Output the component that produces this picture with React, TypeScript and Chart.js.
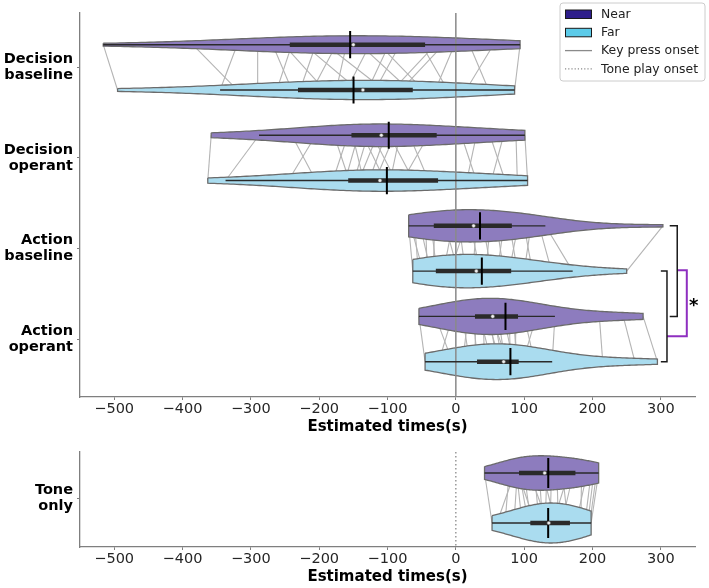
import React, { useEffect, useRef } from "react";
import { Chart, registerables } from "chart.js";

Chart.register(...registerables);

// Estimated times (s), one value per participant.
// Near[i] and Far[i] belong to the same participant and are joined by a grey line.
const decisionBaselineNear = [-516, -385, -320, -290, -268, -252, -240, -222, -205, -190, -175, -160, -140, -126, -112, -98, -82, -50, -30, -18, -2, 20, 55, 94];
const decisionBaselineFar = [-495, -320, -345, -290, -240, -192, -262, -143, -228, -105, -210, -175, -68, -160, -48, -129, -118, -12, -92, -80, -30, 48, 15, 86];

const decisionOperantNear = [-358, -288, -240, -205, -178, -158, -151, -143, -136, -129, -122, -115, -103, -97, -90, -82, -68, -40, 8, 30, 50, 70, 88, 101];
const decisionOperantFar = [-363, -337, -205, -245, -156, -180, -135, -162, -104, -149, -88, -142, -127, -62, -118, -96, -40, -78, 30, 16, 72, 52, 90, 105];

const actionBaselineNear = [-69, -66, -60, -52, -44, -36, -31, -15, -5, 5, 14, 22, 30, 40, 50, 60, 70, 79, 91, 100, 110, 122, 131, 303];
const actionBaselineFar = [-63, -48, -55, -37, -42, -28, -33, 3, -18, 14, -8, 35, 25, 52, 44, 70, 61, 90, 78, 112, 100, 140, 171, 250];

const actionOperantNear = [-54, -30, -5, 10, 18, 25, 29, 35, 40, 45, 49, 52, 56, 62, 70, 78, 84, 88, 100, 118, 145, 210, 245, 274];
const actionOperantFar = [-45, -5, -25, 20, 10, 32, 28, 52, 42, 65, 60, 76, 68, 72, 84, 80, 90, 87, 115, 98, 141, 215, 262, 295];

const toneOnlyNear = [42, 78, 86, 89, 90, 91, 93, 100, 108, 115, 122, 127, 133, 140, 148, 156, 165, 172, 184, 192, 198, 202, 206, 209];
const toneOnlyFar = [53, 72, 60, 97, 85, 116, 106, 110, 134, 122, 127, 146, 131, 138, 150, 164, 142, 155, 183, 176, 189, 193, 196, 198];

const topCategories = [["Decision", "baseline"], ["Decision", "operant"], ["Action", "baseline"], ["Action", "operant"]];
const bottomCategories = [["Tone", "only"]];
const xTickValues = [-500, -400, -300, -200, -100, 0, 100, 200, 300];
const hueNames = ["Near", "Far"];
const onsetNames = ["Key press onset", "Tone play onset"];
const xTitle = "Estimated times(s)";
const significanceMark = "*";

type Row = { near: number[]; far: number[] };

const topRows: Row[] = [
  { near: decisionBaselineNear, far: decisionBaselineFar },
  { near: decisionOperantNear, far: decisionOperantFar },
  { near: actionBaselineNear, far: actionBaselineFar },
  { near: actionOperantNear, far: actionOperantFar },
];
const bottomRows: Row[] = [{ near: toneOnlyNear, far: toneOnlyFar }];

// ---- styling ----
const FONT = "'DejaVu Sans', 'Liberation Sans', sans-serif";
const AXIS = "#7f7f7f";
const NEAR_FILL = "#8d7cbe";
const FAR_FILL = "#aadcef";
const NEAR_PATCH = "#2e1e8b";
const FAR_PATCH = "#5ccbe9";
const VIOLIN_EDGE = "#6b6b6b";
const PAIR_LINE = "#b4b4b4";
const BOX = "#2a2a2a";
const SIG = "#8e2fc0";
const DODGE = 0.25;
const HALF_WIDTH = 0.2;
const MEAN_HALF = 0.15;
const BW_ADJUST = 1.6;

// numpy-style linear quantile
function quantile(sorted: number[], p: number) {
  const pos = p * (sorted.length - 1);
  const lo = Math.floor(pos);
  const hi = Math.min(lo + 1, sorted.length - 1);
  return sorted[lo] + (pos - lo) * (sorted[hi] - sorted[lo]);
}

function boxStats(values: number[]) {
  const s = [...values].sort((a, b) => a - b);
  const q1 = quantile(s, 0.25);
  const median = quantile(s, 0.5);
  const q3 = quantile(s, 0.75);
  const fence = 1.5 * (q3 - q1);
  const lo = Math.min(...s.filter((v) => v >= q1 - fence));
  const hi = Math.max(...s.filter((v) => v <= q3 + fence));
  const mean = s.reduce((a, b) => a + b, 0) / s.length;
  return { q1, median, q3, lo, hi, mean };
}

// Gaussian KDE with Scott's bandwidth (adjusted), cut at the data range
function kde(values: number[]) {
  const n = values.length;
  const mean = values.reduce((a, b) => a + b, 0) / n;
  const sd = Math.sqrt(values.reduce((a, b) => a + (b - mean) ** 2, 0) / (n - 1));
  const bw = Math.pow(n, -0.2) * sd * BW_ADJUST;
  const lo = Math.min(...values);
  const hi = Math.max(...values);
  const xs: number[] = [];
  const ds: number[] = [];
  const grid = 100;
  for (let i = 0; i < grid; i++) {
    const x = lo + ((hi - lo) * i) / (grid - 1);
    let sum = 0;
    for (const v of values) {
      const z = (x - v) / bw;
      sum += Math.exp(-0.5 * z * z);
    }
    xs.push(x);
    ds.push(sum / (n * bw * Math.sqrt(2 * Math.PI)));
  }
  return { xs, ds };
}

function seg(points: { x: number; y: number }[], color: string, width: number, order: number, dash: number[] = []) {
  return {
    type: "line",
    data: points,
    borderColor: color,
    borderWidth: width,
    borderDash: dash,
    borderCapStyle: "butt",
    pointRadius: 0,
    fill: false,
    tension: 0,
    order,
  };
}

function violinDatasets(rows: Row[]) {
  const kdes = rows.map((r) => [kde(r.near), kde(r.far)]);
  const maxDensity = Math.max(...kdes.flat().map((k) => Math.max(...k.ds)));
  const scale = HALF_WIDTH / maxDensity;
  const out: any[] = [];
  rows.forEach((row, i) => {
    const centers = [i - DODGE, i + DODGE];
    row.near.forEach((v, j) => {
      out.push(seg([{ x: v, y: centers[0] }, { x: row.far[j], y: centers[1] }], PAIR_LINE, 1.1, 6));
    });
    [row.near, row.far].forEach((vals, h) => {
      const c = centers[h];
      const k = kdes[i][h];
      const upper = k.xs.map((x, m) => ({ x, y: c - k.ds[m] * scale }));
      const lower = k.xs.map((x, m) => ({ x, y: c + k.ds[m] * scale })).reverse();
      out.push({
        type: "line",
        data: [...upper, ...lower, upper[0]],
        fill: "shape",
        backgroundColor: h === 0 ? NEAR_FILL : FAR_FILL,
        borderColor: VIOLIN_EDGE,
        borderWidth: 1.3,
        pointRadius: 0,
        tension: 0,
        order: 5,
      });
      const s = boxStats(vals);
      out.push(seg([{ x: s.lo, y: c }, { x: s.hi, y: c }], BOX, 1.4, 3));
      out.push(seg([{ x: s.q1, y: c }, { x: s.q3, y: c }], BOX, 4.5, 2));
      out.push(seg([{ x: s.mean, y: c - MEAN_HALF }, { x: s.mean, y: c + MEAN_HALF }], "#000000", 2, 1));
      out.push({
        type: "line",
        data: [{ x: s.median, y: c }],
        showLine: false,
        pointRadius: 1.8,
        pointBackgroundColor: "#eeeeee",
        pointBorderColor: "#666666",
        pointBorderWidth: 0.5,
        order: 0,
      });
    });
  });
  return out;
}

type PanelOpts = {
  rows: Row[];
  labels: string[][];
  yMin: number;
  yMax: number;
  padTop: number;
  axisHeight: number;
  titlePad: number;
  onsetDash: number[];
  extra: any[];
  plugins: any[];
};

function panelConfig(p: PanelOpts): any {
  return {
    type: "line",
    data: {
      datasets: [
        ...violinDatasets(p.rows),
        seg([{ x: 0, y: p.yMin }, { x: 0, y: p.yMax }], "#8a8a8a", p.onsetDash.length ? 1.3 : 1.5, 4, p.onsetDash),
        ...p.extra,
      ],
    },
    options: {
      animation: false,
      responsive: false,
      events: [],
      layout: { padding: { top: p.padTop, right: 14, left: 0, bottom: 0 } },
      plugins: { legend: { display: false }, tooltip: { enabled: false } },
      scales: {
        x: {
          type: "linear",
          min: -550,
          max: 350,
          afterBuildTicks: (s: any) => {
            s.ticks = xTickValues.map((v) => ({ value: v }));
          },
          afterFit: (s: any) => {
            s.height = p.axisHeight;
          },
          ticks: {
            callback: (v: number) => String(v).replace("-", "\u2212"),
            font: { family: FONT, size: 14.5 },
            color: "#262626",
            padding: 1,
            maxRotation: 0,
            autoSkip: false,
          },
          grid: { drawOnChartArea: false, drawTicks: true, tickLength: 3, color: AXIS },
          border: { display: true, color: AXIS, width: 1.3 },
          title: {
            display: true,
            text: xTitle,
            font: { family: FONT, size: 15, weight: "bold" },
            color: "#000000",
            padding: { top: 0, bottom: p.titlePad },
          },
        },
        y: {
          type: "linear",
          reverse: true,
          min: p.yMin,
          max: p.yMax,
          afterBuildTicks: (s: any) => {
            s.ticks = p.labels.map((_, i) => ({ value: i }));
          },
          afterFit: (s: any) => {
            s.width = 80;
            // category labels sit well inside the axis, no edge padding needed
            s.paddingTop = 0;
            s.paddingBottom = 0;
          },
          ticks: {
            callback: (v: number) => p.labels[Math.round(v)],
            font: { family: FONT, size: 14.5, weight: "bold", lineHeight: 1.08 },
            color: "#000000",
            padding: 4,
            autoSkip: false,
          },
          grid: { drawOnChartArea: false, drawTicks: true, tickLength: 3, color: AXIS },
          border: { display: true, color: AXIS, width: 1.3 },
        },
      },
    },
    plugins: p.plugins,
  };
}

// Bracket comparisons between Action baseline and Action operant
const bracketDatasets = [
  seg([{ x: 313, y: 1.75 }, { x: 324, y: 1.75 }, { x: 324, y: 2.75 }, { x: 313, y: 2.75 }], "#1a1a1a", 1.5, 2),
  seg([{ x: 300, y: 2.25 }, { x: 309, y: 2.25 }, { x: 309, y: 3.25 }, { x: 300, y: 3.25 }], "#1a1a1a", 1.5, 2),
  seg([{ x: 324, y: 2.24 }, { x: 338, y: 2.24 }, { x: 338, y: 2.97 }, { x: 309, y: 2.97 }], SIG, 2, 2),
];

const starPlugin = {
  id: "significanceStar",
  afterDatasetsDraw(chart: any) {
    const { ctx, scales } = chart;
    const x = scales.x.getPixelForValue(348);
    const y = scales.y.getPixelForValue(2.6);
    ctx.save();
    ctx.font = `bold 18px ${FONT}`;
    ctx.fillStyle = "#000000";
    ctx.textAlign = "center";
    ctx.textBaseline = "middle";
    ctx.fillText(significanceMark, x, y + 4);
    ctx.restore();
  },
};

const legendPlugin = {
  id: "conditionLegend",
  afterDraw(chart: any) {
    const ctx = chart.ctx as CanvasRenderingContext2D;
    const x0 = chart.chartArea.right - 135;
    const y0 = 3;
    const w = 145;
    const h = 78;
    ctx.save();
    ctx.beginPath();
    const r = 3;
    ctx.moveTo(x0 + r, y0);
    ctx.arcTo(x0 + w, y0, x0 + w, y0 + h, r);
    ctx.arcTo(x0 + w, y0 + h, x0, y0 + h, r);
    ctx.arcTo(x0, y0 + h, x0, y0, r);
    ctx.arcTo(x0, y0, x0 + w, y0, r);
    ctx.closePath();
    ctx.fillStyle = "rgba(255,255,255,0.85)";
    ctx.fill();
    ctx.strokeStyle = "#cccccc";
    ctx.lineWidth = 1;
    ctx.stroke();

    const items = [
      { label: hueNames[0], kind: "patch", color: NEAR_PATCH },
      { label: hueNames[1], kind: "patch", color: FAR_PATCH },
      { label: onsetNames[0], kind: "line", dash: [] as number[] },
      { label: onsetNames[1], kind: "line", dash: [1.2, 2] },
    ];
    const hx = x0 + 5;
    items.forEach((it, i) => {
      const cy = y0 + 11 + i * 18.3;
      if (it.kind === "patch") {
        ctx.fillStyle = it.color as string;
        ctx.fillRect(hx + 0.5, cy - 4, 26, 8.5);
        ctx.strokeStyle = "#1a1a1a";
        ctx.lineWidth = 1;
        ctx.setLineDash([]);
        ctx.strokeRect(hx + 0.5, cy - 4, 26, 8.5);
      } else {
        ctx.strokeStyle = "#8a8a8a";
        ctx.lineWidth = 1.3;
        ctx.setLineDash(it.dash as number[]);
        ctx.beginPath();
        ctx.moveTo(hx, cy);
        ctx.lineTo(hx + 27, cy);
        ctx.stroke();
        ctx.setLineDash([]);
      }
      ctx.fillStyle = "#222222";
      ctx.font = `12.4px ${FONT}`;
      ctx.textAlign = "left";
      ctx.textBaseline = "middle";
      ctx.fillText(it.label, hx + 36, cy + 0.5);
    });
    ctx.restore();
  },
};

export default function App() {
  const topRef = useRef<HTMLCanvasElement>(null);
  const bottomRef = useRef<HTMLCanvasElement>(null);

  useEffect(() => {
    const top = new Chart(
      topRef.current as HTMLCanvasElement,
      panelConfig({
        rows: topRows,
        labels: topCategories,
        yMin: -0.6,
        yMax: 3.64,
        padTop: 13,
        axisHeight: 43,
        titlePad: 4,
        onsetDash: [],
        extra: bracketDatasets,
        plugins: [legendPlugin, starPlugin],
      })
    );
    const bottom = new Chart(
      bottomRef.current as HTMLCanvasElement,
      panelConfig({
        rows: bottomRows,
        labels: bottomCategories,
        yMin: -0.46,
        yMax: 0.49,
        padTop: 12,
        axisHeight: 41,
        titlePad: 2,
        onsetDash: [1.5, 2.5],
        extra: [],
        plugins: [],
      })
    );
    return () => {
      top.destroy();
      bottom.destroy();
    };
  }, []);

  return (
    <div style={{ position: "absolute", left: 0, top: 0, width: 709, height: 588, background: "#ffffff" }}>
      <canvas ref={topRef} width={709} height={440} style={{ position: "absolute", left: 0, top: 0, width: 709, height: 440 }} />
      <canvas ref={bottomRef} width={709} height={148} style={{ position: "absolute", left: 0, top: 440, width: 709, height: 148 }} />
    </div>
  );
}
